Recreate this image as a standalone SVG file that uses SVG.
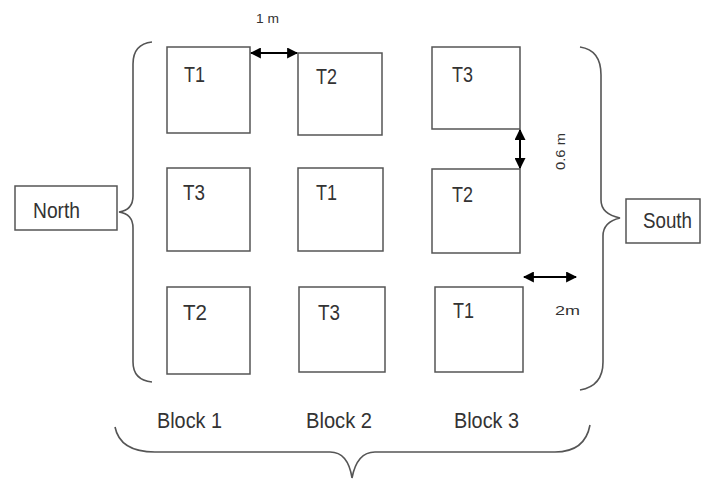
<svg xmlns="http://www.w3.org/2000/svg" width="707" height="481" viewBox="0 0 707 481">
<defs>
<style>
.box{fill:#fff;stroke:#555;stroke-width:1.5}
.br{fill:none;stroke:#555;stroke-width:1.6}
.t{font-family:"Liberation Sans",Arial,sans-serif;font-size:22px;fill:#333}
.s{font-family:"Liberation Sans",Arial,sans-serif;font-size:12px;fill:#333}
.ar{stroke:#000;stroke-width:2;fill:none}
</style>
<marker id="ah" viewBox="0 0 10 10" refX="9" refY="5" markerWidth="5.5" markerHeight="5.5" orient="auto-start-reverse" markerUnits="strokeWidth">
<path d="M0,0 L10,5 L0,10 Z" fill="#000"/>
</marker>
</defs>
<rect width="707" height="481" fill="#fff"/>

<g id="b1r1"><rect class="box" x="167" y="47" width="83" height="86"/><text class="t" x="184" y="82" textLength="21" lengthAdjust="spacingAndGlyphs">T1</text></g>
<g id="b2r1"><rect class="box" x="298" y="53" width="84" height="82"/><text class="t" x="316" y="84" textLength="21" lengthAdjust="spacingAndGlyphs">T2</text></g>
<g id="b3r1"><rect class="box" x="432" y="47" width="88" height="82"/><text class="t" x="452" y="82" textLength="21" lengthAdjust="spacingAndGlyphs">T3</text></g>

<g id="b1r2"><rect class="box" x="167" y="168" width="83" height="83"/><text class="t" x="183" y="200" textLength="22" lengthAdjust="spacingAndGlyphs">T3</text></g>
<g id="b2r2"><rect class="box" x="298" y="168" width="85" height="83"/><text class="t" x="316" y="200" textLength="21" lengthAdjust="spacingAndGlyphs">T1</text></g>
<g id="b3r2"><rect class="box" x="432" y="169" width="88" height="84"/><text class="t" x="452" y="202" textLength="21" lengthAdjust="spacingAndGlyphs">T2</text></g>

<g id="b1r3"><rect class="box" x="167" y="287" width="83" height="87"/><text class="t" x="183" y="320" textLength="24" lengthAdjust="spacingAndGlyphs">T2</text></g>
<g id="b2r3"><rect class="box" x="299" y="287" width="86" height="85"/><text class="t" x="318" y="320" textLength="22" lengthAdjust="spacingAndGlyphs">T3</text></g>
<g id="b3r3"><rect class="box" x="435" y="287" width="88" height="85"/><text class="t" x="453" y="318" textLength="21" lengthAdjust="spacingAndGlyphs">T1</text></g>

<g id="north"><rect class="box" x="15" y="186" width="102" height="44"/><text class="t" x="33" y="218" font-size="19" textLength="47" lengthAdjust="spacingAndGlyphs">North</text></g>
<g id="south"><rect class="box" x="626" y="199" width="74" height="44"/><text class="t" x="643" y="228" font-size="19" textLength="49" lengthAdjust="spacingAndGlyphs">South</text></g>

<g id="labels">
<text class="t" x="157" y="428" font-size="21" textLength="65" lengthAdjust="spacingAndGlyphs">Block 1</text>
<text class="t" x="306" y="428" font-size="21" textLength="66" lengthAdjust="spacingAndGlyphs">Block 2</text>
<text class="t" x="454" y="428" font-size="21" textLength="65" lengthAdjust="spacingAndGlyphs">Block 3</text>
<text class="s" x="256" y="23" font-size="13" textLength="23" lengthAdjust="spacingAndGlyphs">1 m</text>
<text class="s" x="0" y="0" transform="translate(565,170) rotate(-90)" font-size="13" textLength="37" lengthAdjust="spacingAndGlyphs">0.6 m</text>
<text class="s" x="555" y="315" font-size="14" textLength="25" lengthAdjust="spacingAndGlyphs">2m</text>
</g>

<g id="connectors">
<path class="br" d="M152,42 Q133,44 133,64 L133,196 Q133,210 119,212 Q133,214 133,228 L133,362 Q133,380 152,382"/>
<path class="br" d="M580,47 Q601,50 601,75 L601,200 Q601,214 620,218 Q603,222 603,236 L603,362 Q603,386 580,390"/>
<path class="br" d="M115,427 Q120,452 155,452 L330,452 Q348,452 352,478 Q357,452 375,452 L555,452 Q585,452 590,425"/>
<line class="ar" x1="251" y1="53" x2="297" y2="53" marker-start="url(#ah)" marker-end="url(#ah)"/>
<line class="ar" x1="520" y1="130" x2="520" y2="168" marker-start="url(#ah)" marker-end="url(#ah)"/>
<line class="ar" x1="524" y1="277" x2="576" y2="277" marker-start="url(#ah)" marker-end="url(#ah)"/>
</g>
</svg>
